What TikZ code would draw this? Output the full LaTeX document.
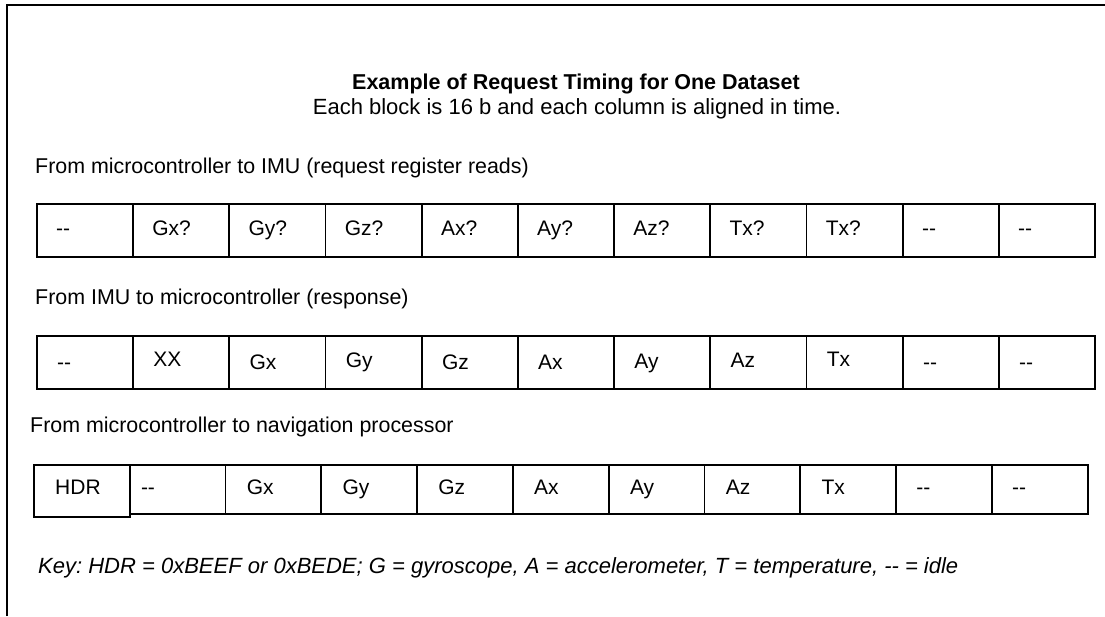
\documentclass[tikz,border=0pt]{standalone}
\usepackage{fontspec}
\setmainfont{Liberation Sans}
\frenchspacing
\begin{document}
\begin{tikzpicture}[x=1pt,y=-1pt,
  cellbox/.style={draw=black, line width=1.8pt, minimum height=#1, inner sep=0pt, anchor=north west},
  celltext/.style={anchor=base west, inner sep=0pt, font=\fontsize{21}{25}\selectfont},
  rowlabel/.style={anchor=base west, inner sep=0pt, font=\fontsize{21.4}{25}\selectfont},
  frameline/.style={draw=black, line width=2pt}]
\useasboundingbox (0,0) rectangle (1105,616);
% frame
\coordinate (fbl) at (7,616);
\coordinate (ftl) at (7,5);
\coordinate (ftr) at (1105,5);
\draw[frameline] (fbl) -- (ftl) -- (ftr);
% title
\node[anchor=base, inner sep=0pt, font=\bfseries\fontsize{21.5}{25}\selectfont] (title) at (576,89) {Example of Request Timing for One Dataset};
\node[anchor=base, inner sep=0pt, font=\fontsize{22}{26}\selectfont] (subtitle) at (577,114) {Each block is 16 b and each column is aligned in time.};
% labels
\node[rowlabel] (lab1) at (35,173) {From microcontroller to IMU (request register reads)};
\node[rowlabel] (lab2) at (35,304) {From IMU to microcontroller (response)};
\node[rowlabel] (lab3) at (30,432) {From microcontroller to navigation processor};
% row 1
\foreach \t [count=\i] in {{-{}-},Gx?,Gy?,Gz?,Ax?,Ay?,Az?,Tx?,Tx?,{-{}-},{-{}-}} {
  \node[cellbox=53pt, minimum width=96.2pt] (a\i) at ({36+96.2*(\i-1)},203) {};
  \node[celltext] (at\i) at ({36+96.2*(\i-1)+20},235) {\t};
}
% row 2
\foreach \t [count=\i] in {{-{}-},XX,Gx,Gy,Gz,Ax,Ay,Az,Tx,{-{}-},{-{}-}} {
  \node[cellbox=53pt, minimum width=96.2pt] (b\i) at ({36+96.2*(\i-1)},335) {};
}
\foreach \t/\i/\dy in {{-{}-}/1/0,XX/2/-3,Gx/3/0,Gy/4/-2,Gz/5/0,Ax/6/0,Ay/7/-1,Az/8/-2,Tx/9/-3,{-{}-}/10/0,{-{}-}/11/0} {
  \node[celltext] (bt\i) at ({36+96.2*(\i-1)+21},{369+\dy}) {\t};
}
% row 3
\node[cellbox=52pt, minimum width=95.8pt] (c1) at (33,464) {};
\node[celltext] (ct1) at (55,494) {HDR};
\foreach \t [count=\i from 2] in {{-{}-},Gx,Gy,Gz,Ax,Ay,Az,Tx,{-{}-},{-{}-}} {
  \node[cellbox=49pt, minimum width=95.8pt] (c\i) at ({33+95.8*(\i-1)},464) {};
}
\foreach \t/\i/\dx in {{-{}-}/2/12,Gx/3/22,Gy/4/22,Gz/5/22,Ax/6/22,Ay/7/22,Az/8/22,Tx/9/22,{-{}-}/10/21,{-{}-}/11/21} {
  \node[celltext] (ct\i) at ({33+95.8*(\i-1)+\dx},494) {\t};
}
% key
\node[anchor=base west, inner sep=0pt, font=\itshape\fontsize{22}{26}\selectfont] (key) at (38,573) {Key: HDR = 0xBEEF or 0xBEDE; G = gyroscope, A = accelerometer, T = temperature, -{}- = idle};
\end{tikzpicture}
\end{document}
